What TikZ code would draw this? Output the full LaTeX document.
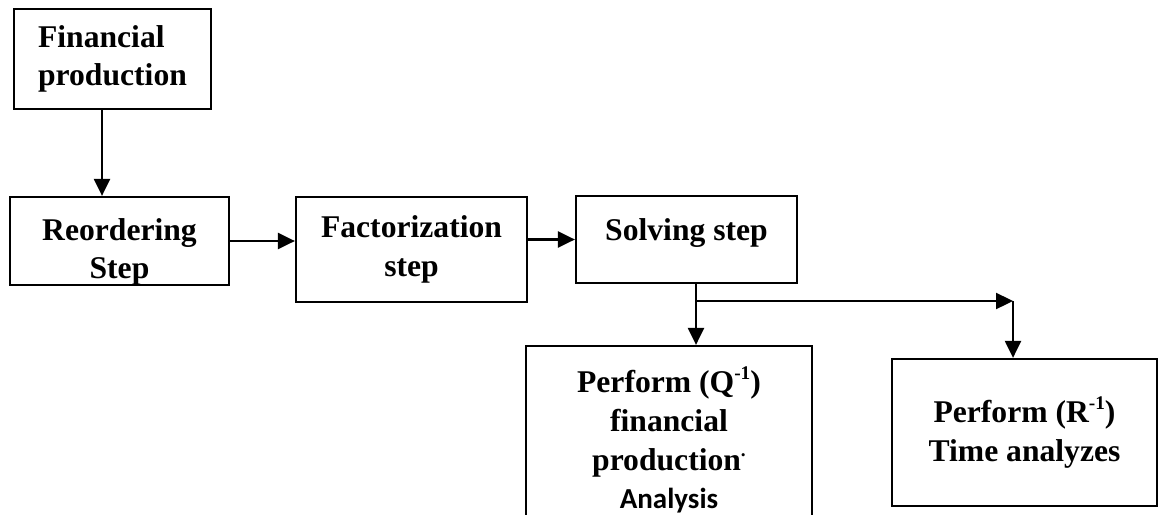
\documentclass[tikz,border=0pt]{standalone}
\usepackage{fontspec}
\setmainfont{Liberation Serif}
\newfontfamily\calfont{Carlito}
\usepackage{tikz}
\usetikzlibrary{shapes, arrows.meta, positioning, calc}
\newcommand{\powtxt}[1]{\raisebox{0.42em}{\fontsize{11}{11}\selectfont #1}}

\begin{document}
\begin{tikzpicture}[
  x=0.02cm, y=-0.02cm,
  sbox/.style={draw, line width=1.3pt, align=center, inner sep=2pt, font=\fontsize{18}{22}\selectfont\bfseries},
  stxt/.style={align=center, inner sep=0pt, font=\fontsize{18}{22}\selectfont\bfseries},
  arr/.style={line width=1.3pt, -{Triangle[length=0.34cm, width=0.32cm]}}
]
  \clip (0,0) rectangle (1159,514);

  \node[sbox, align=left, minimum width=3.94cm, minimum height=2.0cm] (fin) at (112.5,59) {Financial\\production};
  \node[sbox, minimum width=4.38cm, minimum height=1.76cm] (reo) at (119.5,241) {};
  \node[stxt] (reotxt) at (119.5,252) {Reordering\\Step};
  \node[sbox, minimum width=4.62cm, minimum height=2.1cm] (fac) at (411.5,249.5) {Factorization\\step};
  \node[sbox, minimum width=4.42cm, minimum height=1.74cm] (sol) at (686.5,239.5) {};
  \node[stxt] (soltxt) at (686.5,233) {Solving step};
  \node[sbox, minimum width=5.72cm, minimum height=3.76cm] (qan) at (669,440) {Perform (Q\powtxt{-1})\\financial\\production\powtxt{.}\\{\calfont\fontsize{16.5}{22}\selectfont Analysis}};
  \node[sbox, minimum width=5.3cm, minimum height=2.94cm] (tim) at (1024.5,432.5) {Perform (R\powtxt{-1})\\Time analyzes};

  \coordinate (split) at (696,301);
  \coordinate (corner) at (1013,301);

  \draw[arr] ([xshift=-0.21cm]fin.south) -- ([xshift=-0.21cm]fin.south |- reo.north);
  \draw[arr] (reo.east) -- (reo.east -| fac.west);
  \draw[arr] (sol.west -| fac.east) -- (sol.west);
  \draw[line width=1.3pt] (split |- sol.south) -- (split);
  \draw[arr] (split) -- (corner);
  \draw[arr] (corner) -- (corner |- tim.north);
  \draw[arr] (split) -- (split |- qan.north);
\end{tikzpicture}
\end{document}
